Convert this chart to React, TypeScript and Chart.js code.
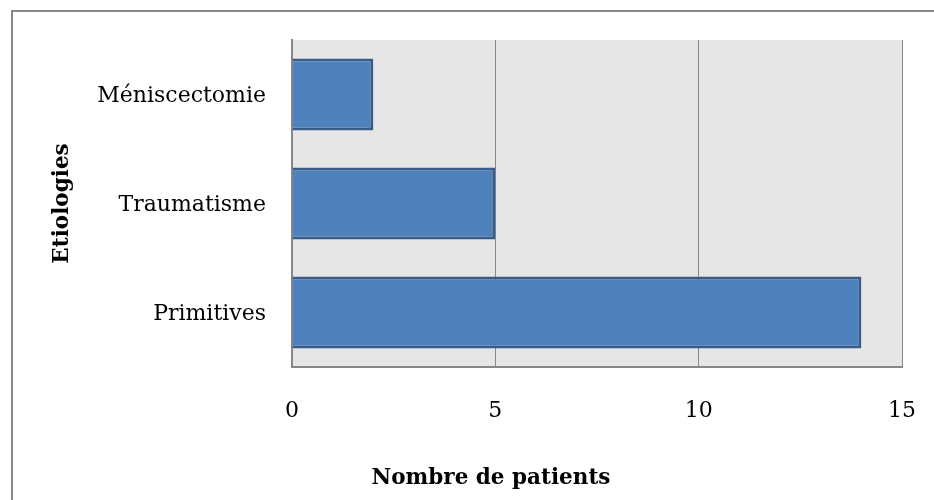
import { useEffect, useRef } from "react";
import { Chart, registerables } from "chart.js";

Chart.register(...registerables);

// Data
const categories = ["Méniscectomie", "Traumatisme", "Primitives"];
const patients = [2, 5, 14];
const xMin = 0;
const xMax = 15;
const xStep = 5;
const xTitle = "Nombre de patients";
const yTitle = "Etiologies";

const FONT = "'DejaVu Serif', 'Liberation Serif', serif";
const GRID = "#878787";

// Grey plot background and outer frame
const backdrop = {
  id: "backdrop",
  beforeDraw(chart: any) {
    const { ctx, chartArea: a } = chart;
    ctx.save();
    ctx.fillStyle = "#e6e6e6";
    ctx.fillRect(a.left, a.top, a.right - a.left, a.bottom - a.top);
    ctx.strokeStyle = GRID;
    ctx.lineWidth = 2;
    ctx.strokeRect(12, 11, 960, 520);
    ctx.restore();
  },
};

// Axis titles
const axisTitles = {
  id: "axisTitles",
  afterDraw(chart: any) {
    const { ctx, chartArea: a } = chart;
    ctx.save();
    ctx.fillStyle = "#000";
    ctx.font = `bold 21.5px ${FONT}`;
    ctx.textAlign = "center";
    ctx.textBaseline = "middle";
    ctx.fillText(xTitle, 491, 478);
    ctx.translate(62, (a.top + a.bottom) / 2);
    ctx.rotate(-Math.PI / 2);
    ctx.fillText(yTitle, 0, 0);
    ctx.restore();
  },
};

export default function App() {
  const ref = useRef<HTMLCanvasElement>(null);

  useEffect(() => {
    if (!ref.current) return;
    const chart = new Chart(ref.current, {
      type: "bar",
      data: {
        labels: categories,
        datasets: [
          {
            data: patients,
            backgroundColor: "#4f81bd",
            borderColor: "#385d8a",
            borderWidth: 3,
            barPercentage: 0.66,
            categoryPercentage: 1,
          },
        ],
      },
      options: {
        indexAxis: "y",
        animation: false,
        responsive: false,
        maintainAspectRatio: false,
        layout: { padding: { left: 0, top: 40, right: 32, bottom: 0 } },
        plugins: { legend: { display: false }, tooltip: { enabled: false } },
        scales: {
          x: {
            min: xMin,
            max: xMax,
            ticks: {
              stepSize: xStep,
              color: "#000",
              padding: 31,
              font: { family: FONT, size: 22 },
            },
            grid: { color: GRID, lineWidth: 1, drawTicks: false },
            border: { display: true, color: GRID, width: 2 },
            afterFit: (s: any) => {
              s.height = 500 - 367;
              s.paddingLeft = 0;
              s.paddingRight = 0;
            },
          },
          y: {
            ticks: {
              color: "#000",
              padding: 26,
              labelOffset: 2,
              font: { family: FONT, size: 22 },
            },
            grid: { display: false, drawTicks: false },
            border: { display: true, color: GRID, width: 2 },
            afterFit: (s: any) => {
              s.width = 292;
              s.paddingTop = 0;
              s.paddingBottom = 0;
            },
          },
        },
      },
      plugins: [backdrop, axisTitles],
    });
    return () => chart.destroy();
  }, []);

  return (
    <div style={{ position: "absolute", left: 0, top: 0, width: 934, height: 500, background: "#fff" }}>
      <canvas ref={ref} width={934} height={500} style={{ width: 934, height: 500 }} />
    </div>
  );
}
